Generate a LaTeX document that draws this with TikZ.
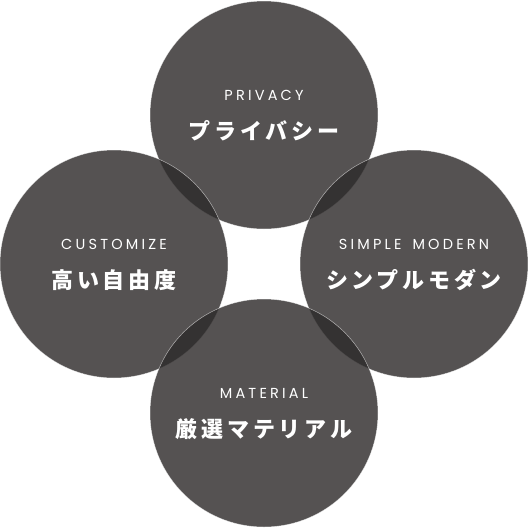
\documentclass[tikz,border=0pt]{standalone}
\usepackage{fontspec}
\newfontfamily\latinf[LetterSpace=22]{Poppins}
\newfontfamily\jpf[LetterSpace=17]{Noto Sans CJK JP}
\definecolor{discfill}{RGB}{45,42,42}
\begin{document}
\begin{tikzpicture}[x=1pt,y=-1pt]
\tikzset{
  disc/.style={circle, minimum size=228pt, inner sep=0pt, fill=discfill, fill opacity=0.813, draw=white, draw opacity=0.6, line width=0.5pt},
  en/.style={text=white, inner sep=0pt, font=\latinf\fontsize{14.5}{14.5}\selectfont},
  jp/.style={text=white, inner sep=0pt, font=\jpf\bfseries\fontsize{22}{22}\selectfont}
}
\useasboundingbox (0,0) rectangle (528,528);
\node[disc] (top) at (264,115) {};
\node[disc] (left) at (114,264) {};
\node[disc] (right) at (414,264) {};
\node[disc] (bottom) at (264,413) {};
\node[en] (topen) at ([yshift=20pt]top.center) {PRIVACY};
\node[jp] (topjp) at ([yshift=-16pt]top.center) {プライバシー};
\node[en] (leften) at ([yshift=20pt]left.center) {CUSTOMIZE};
\node[jp] (leftjp) at ([yshift=-16pt]left.center) {高い自由度};
\node[en] (righten) at ([yshift=20pt]right.center) {SIMPLE\hspace{4pt} MODERN};
\node[jp] (rightjp) at ([yshift=-16pt]right.center) {シンプルモダン};
\node[en] (bottomen) at ([yshift=20pt]bottom.center) {MATERIAL};
\node[jp] (bottomjp) at ([yshift=-16pt]bottom.center) {厳選マテリアル};
\end{tikzpicture}
\end{document}
